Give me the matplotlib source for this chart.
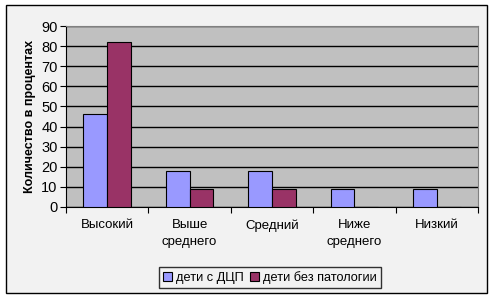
import matplotlib
matplotlib.use("Agg")
import matplotlib.pyplot as plt
from matplotlib.patches import Rectangle
import numpy as np

plt.rcParams['font.family'] = ['Liberation Sans', 'DejaVu Sans']

categories = ["Высокий", "Выше\nсреднего", "Средний", "Ниже\nсреднего", "Низкий"]
series_names = ["дети с ДЦП", "дети без патологии"]
dcp = [46, 18, 18, 9, 9]
norm = [82, 9, 9, 0, 0]
yticks = [0, 10, 20, 30, 40, 50, 60, 70, 80, 90]

W, H = 493, 298
fig = plt.figure(figsize=(W/100, H/100), dpi=100)
fig.patch.set_facecolor('white')
bg = Rectangle((6/W, 1-293/H), (487-6)/W, (293-5)/H,
               transform=fig.transFigure, facecolor='#f2f2f2',
               edgecolor='black', linewidth=1.0, zorder=-5)
fig.patches.append(bg)

ax = fig.add_axes([66/W, 1-207/H, (478-66)/W, (207-26)/H])
ax.set_zorder(2)
ax.set_facecolor('#c0c0c0')
x = np.arange(len(categories))
bw = 0.29
ax.bar(x - bw/2, dcp, bw, color='#9999ff', edgecolor='black', linewidth=0.8, zorder=3, label=series_names[0])
ax.bar(x + bw/2, norm, bw, color='#993366', edgecolor='black', linewidth=0.8, zorder=3, label=series_names[1])

ax.set_xlim(-0.5, len(categories) - 0.5)
ax.set_ylim(0, 90)
ax.set_yticks(yticks)
ax.yaxis.grid(True, color='black', linewidth=1.0, zorder=1)
ax.set_axisbelow(True)
for s in ['top', 'right']:
    ax.spines[s].set_color('#808080')
ax.spines['left'].set_color('black')
ax.spines['bottom'].set_color('black')

ax.set_xticks(np.arange(-0.5, len(categories)), minor=False)
ax.set_xticklabels([])
ax.set_xticks(x, minor=True)
ax.set_xticklabels(categories, minor=True, fontsize=9.5, linespacing=1.45)
ax.tick_params(axis='x', which='minor', length=0, pad=9)
ax.tick_params(axis='x', which='major', length=4, direction='out')
ax.tick_params(axis='y', length=4, direction='out', labelsize=10.5, pad=2)
for lbl in ax.get_xticklabels(minor=True):
    lbl.set_verticalalignment('top')

ax.set_ylabel("Количество в процентах", fontsize=9, fontweight='bold', labelpad=4)

leg = fig.legend(loc='center', bbox_to_anchor=(270/W, 1-277.5/H), ncol=2,
                 frameon=True, fontsize=9.2, handlelength=0.7, handleheight=0.7,
                 handletextpad=0.3, columnspacing=0.5, borderpad=0.35,
                 fancybox=False, borderaxespad=0)
leg.get_frame().set_edgecolor('black')
leg.get_frame().set_facecolor('#f2f2f2')
leg.get_frame().set_linewidth(1.0)

fig.savefig("out.png", dpi=100)
